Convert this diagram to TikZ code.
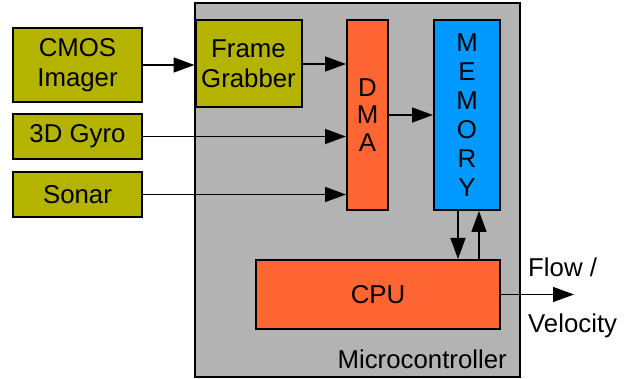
\documentclass[tikz,border=0pt]{standalone}
\usepackage{fontspec}
\setmainfont{Liberation Sans}
\usetikzlibrary{arrows.meta}
\definecolor{sensor}{RGB}{179,179,0}
\definecolor{unit}{RGB}{255,102,51}
\definecolor{store}{RGB}{0,153,255}
\definecolor{chip}{RGB}{179,179,179}
\begin{document}
\begin{tikzpicture}[x=1pt,y=-1pt,
  box/.style={draw,line width=2pt,inner sep=0pt,align=center,font=\fontsize{25.8}{30}\selectfont},
  link/.style={line width=1.5pt,-{Triangle[length=21pt,width=15pt]}},
  txt/.style={inner sep=0pt,font=\fontsize{25.8}{30}\selectfont}]
\useasboundingbox (0,0) rectangle (641,379);
\node[box,fill=chip,minimum width=325pt,minimum height=374pt] (mcu) at (357.5,190) {};
\node[txt,anchor=east] (mculabel) at (507,359) {Microcontroller};
% sensors
\node[box,fill=sensor,minimum width=129pt,minimum height=74pt] (cmos) at (77.5,65) {CMOS\\Imager};
\node[box,fill=sensor,minimum width=129pt,minimum height=45pt] (gyro) at (77.5,136.5) {3D Gyro};
\node[box,fill=sensor,minimum width=129pt,minimum height=45pt] (sonar) at (77.5,194.5) {Sonar};
% blocks inside the chip
\node[box,fill=sensor,minimum width=106pt,minimum height=87pt] (grabber) at (248.5,64) {Frame\\Grabber};
\node[box,fill=unit,minimum width=41pt,minimum height=190pt,font=\fontsize{25.8}{27.5}\selectfont] (dma) at (367.5,115) {D\\M\\A};
\node[box,fill=store,minimum width=66pt,minimum height=190pt,font=\fontsize{25.8}{29}\selectfont] (mem) at (467,115) {M\\E\\M\\O\\R\\Y};
\node[box,fill=unit,minimum width=244pt,minimum height=69pt] (cpu) at (378,294.5) {CPU};
% connectors
\draw[link] (cmos.east) -- (cmos.east -| grabber.west);
\draw[link] (grabber.east) -- (grabber.east -| dma.west);
\draw[link] (gyro.east) -- (gyro.east -| dma.west);
\draw[link] (sonar.east) -- (sonar.east -| dma.west);
\draw[link] (dma.east) -- (dma.east -| mem.west);
\coordinate (down) at ([xshift=-9pt]mem.south);
\coordinate (up) at ([xshift=12pt]mem.south);
\draw[link] (down) -- (down |- cpu.north);
\draw[link] (up |- cpu.north) -- (up);
\coordinate (out) at ([xshift=73pt]cpu.east);
\draw[link] (cpu.east) -- (out);
\node[txt,anchor=west] (flow) at (528,267) {Flow /};
\node[txt,anchor=west] (vel) at (528,326) {Velocity};
\end{tikzpicture}
\end{document}
